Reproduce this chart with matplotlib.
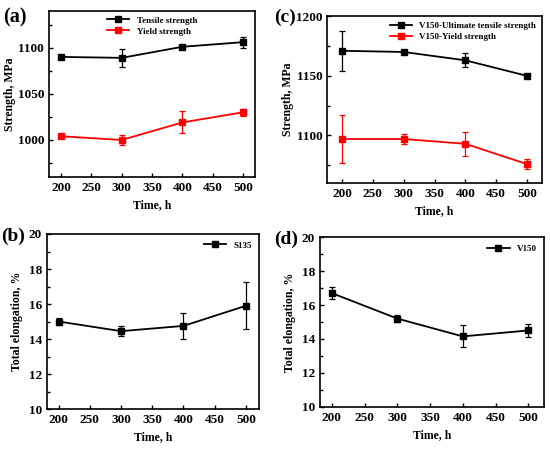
import matplotlib
matplotlib.use('Agg')
import matplotlib.pyplot as plt
from matplotlib.ticker import MultipleLocator

time_h = [200, 300, 400, 500]

# (a) S135 strength
s135_tensile = [1090, 1089, 1101, 1106]
s135_tensile_err = [2, 10, 2, 6]
s135_yield = [1004, 1000, 1019, 1030]
s135_yield_err = [1, 5, 12, 4]

# (c) V150 strength
v150_uts = [1171, 1170, 1163, 1150]
v150_uts_err = [17, 1, 6, 1]
v150_yield = [1097, 1097, 1093, 1076]
v150_yield_err = [20, 4, 10, 4]

# (b) S135 elongation, (d) V150 elongation
s135_elong = [15.0, 14.45, 14.75, 15.9]
s135_elong_err = [0.2, 0.3, 0.75, 1.35]
v150_elong = [16.7, 15.2, 14.15, 14.5]
v150_elong_err = [0.35, 0.2, 0.65, 0.4]

plt.rcParams['font.family'] = ['Liberation Serif', 'DejaVu Serif']
plt.rcParams['font.weight'] = 'bold'
plt.rcParams['axes.labelweight'] = 'bold'


def style_axes(ax):
    for sp in ax.spines.values():
        sp.set_linewidth(1.2)
    ax.tick_params(direction='in', which='both', labelsize=9.5, width=1, top=False, right=False)
    ax.tick_params(which='major', length=3)
    ax.tick_params(which='minor', length=2)
    ax.set_xticks([200, 250, 300, 350, 400, 450, 500])
    ax.set_xlabel('Time, h', fontsize=8.5)


def series(ax, y, err, color, label):
    cont = ax.errorbar(time_h, y, yerr=err, color=color, marker='s', markersize=4,
                       linewidth=1.3, elinewidth=0.9, capsize=2, capthick=0.9)
    line = cont.lines[0]
    line.set_label(label)
    return line


def add_legend(ax, handles, loc, pad):
    ax.legend(handles=handles, loc=loc, frameon=False, fontsize=6.5, handlelength=2.5,
              borderaxespad=pad, labelspacing=0.3)


fig = plt.figure(figsize=(5.5, 4.5), dpi=100)

ax_a = fig.add_axes([0.089, 0.607, 0.375, 0.369])
h1 = series(ax_a, s135_tensile, s135_tensile_err, 'black', 'Tensile strength')
h2 = series(ax_a, s135_yield, s135_yield_err, 'red', 'Yield strength')
ax_a.set_xlim(180, 520)
ax_a.set_ylim(960, 1140)
ax_a.set_yticks([1000, 1050, 1100])
ax_a.yaxis.set_minor_locator(MultipleLocator(25))
ax_a.set_ylabel('Strength, MPa', fontsize=8.5, labelpad=1)
style_axes(ax_a)
add_legend(ax_a, [h1, h2], 'upper center', 0.2)

ax_c = fig.add_axes([0.595, 0.593, 0.39, 0.371])
h1 = series(ax_c, v150_uts, v150_uts_err, 'black', 'V150-Ultimate tensile strength')
h2 = series(ax_c, v150_yield, v150_yield_err, 'red', 'V150-Yield strength')
ax_c.set_xlim(176, 524)
ax_c.set_ylim(1060, 1200)
ax_c.set_yticks([1100, 1150, 1200])
ax_c.yaxis.set_minor_locator(MultipleLocator(25))
ax_c.set_ylabel('Strength, MPa', fontsize=8.5, labelpad=1)
style_axes(ax_c)
add_legend(ax_c, [h1, h2], 'upper right', 0.2)

ax_b = fig.add_axes([0.085, 0.091, 0.386, 0.389])
h1 = series(ax_b, s135_elong, s135_elong_err, 'black', 'S135')
ax_b.set_xlim(181, 521)
ax_b.set_ylim(10, 20)
ax_b.set_yticks([10, 12, 14, 16, 18, 20])
ax_b.yaxis.set_minor_locator(MultipleLocator(1))
ax_b.set_ylabel('Total elongation, %', fontsize=8.5)
style_axes(ax_b)
add_legend(ax_b, [h1], 'upper right', 0.4)

ax_d = fig.add_axes([0.582, 0.096, 0.407, 0.377])
h1 = series(ax_d, v150_elong, v150_elong_err, 'black', 'V150')
ax_d.set_xlim(182, 524)
ax_d.set_ylim(10, 20)
ax_d.set_yticks([10, 12, 14, 16, 18, 20])
ax_d.yaxis.set_minor_locator(MultipleLocator(1))
ax_d.set_ylabel('Total elongation, %', fontsize=8.5)
style_axes(ax_d)
add_legend(ax_d, [h1], 'upper right', 0.4)

fig.text(0.005, 0.962, '(a)', fontsize=14.5, fontweight='bold', va='center')
fig.text(0.498, 0.962, '(c)', fontsize=14, fontweight='bold', va='center')
fig.text(0.002, 0.475, '(b)', fontsize=14, fontweight='bold', va='center')
fig.text(0.498, 0.468, '(d)', fontsize=14, fontweight='bold', va='center')

fig.savefig('out.png', dpi=100)
